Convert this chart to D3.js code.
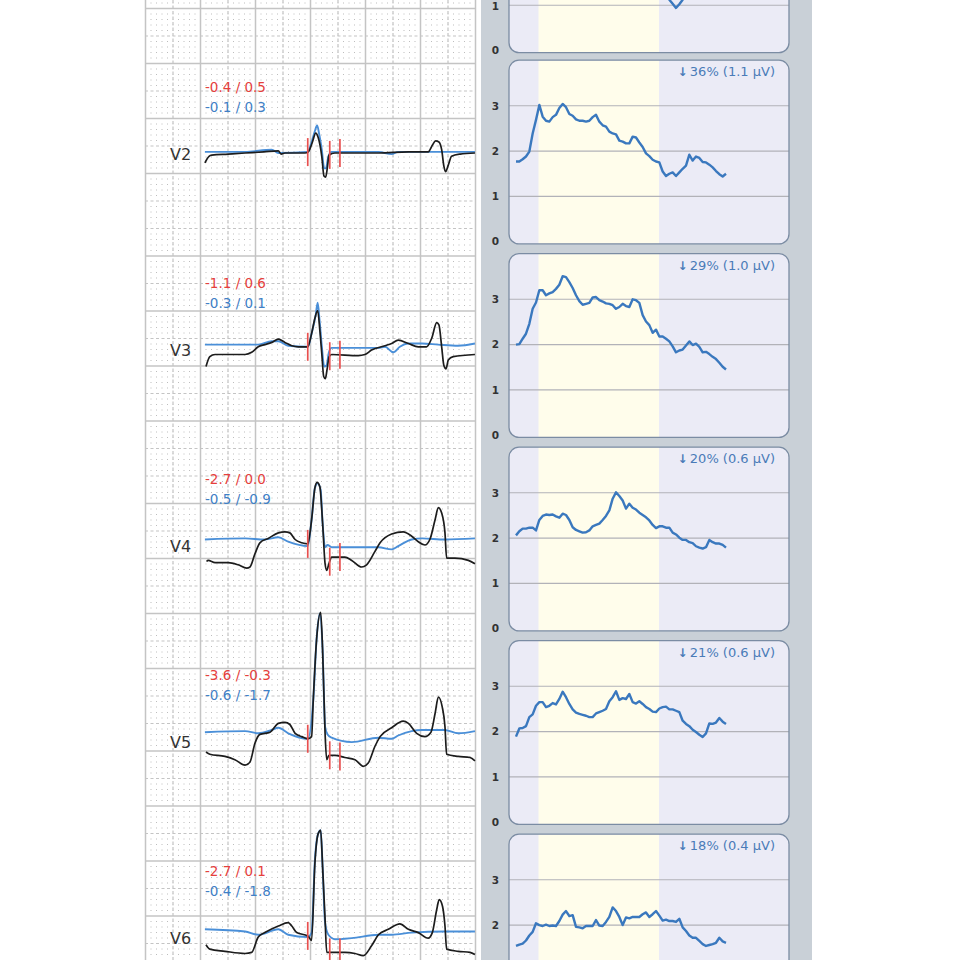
<!DOCTYPE html>
<html><head><meta charset="utf-8">
<script src="https://cdn.jsdelivr.net/npm/d3@7"></script>
<style>body{margin:0;background:#fff}svg{display:block}</style>
</head><body>
<svg id="c" width="960" height="960"></svg>
<script>
// ---------------- DATA ----------------
const leads = ["V2", "V3", "V4", "V5", "V6"];
const stText = ["-0.4 / 0.5", "-1.1 / 0.6", "-2.7 / 0.0", "-3.6 / -0.3", "-2.7 / 0.1"];
const refText = ["-0.1 / 0.3", "-0.3 / 0.1", "-0.5 / -0.9", "-0.6 / -1.7", "-0.4 / -1.8"];
const markerTimes = [390, 470, 507]; // ms

// ECG traces: [time ms, mV]
const v2Black = [[16,-0.09],[31,-0.03],[41,-0.02],[100,-0.01],[162,0.00],[230,0.01],[283,0.02],[293,-0.01],[307,0.00],[380,0.00],[392,0.01],[407,0.10],[419,0.18],[428,0.14],[441,-0.03],[449,-0.21],[455,-0.22],[462,-0.12],[467,-0.02],[489,0.00],[647,0.00],[756,0.01],[828,0.01],[843,0.07],[855,0.11],[867,0.10],[877,0.03],[885,-0.12],[891,-0.17],[901,-0.11],[913,-0.03],[944,-0.01],[998,0.00]];
const v2Blue = [[16,0.01],[162,0.01],[259,0.03],[283,0.00],[390,0.01],[404,0.10],[416,0.20],[424,0.25],[431,0.18],[441,0.03],[450,-0.14],[456,-0.14],[465,-0.03],[477,0.01],[647,0.01],[695,-0.01],[719,0.01],[998,0.01]];
const v3Black = [[20,-0.16],[34,-0.07],[53,-0.05],[162,-0.05],[186,-0.03],[210,0.02],[234,0.04],[259,0.06],[283,0.09],[307,0.06],[332,0.03],[356,0.02],[390,0.02],[404,0.14],[416,0.28],[426,0.35],[434,0.17],[441,-0.04],[448,-0.25],[454,-0.27],[460,-0.19],[468,-0.07],[477,-0.05],[574,-0.06],[598,-0.05],[622,-0.01],[671,0.03],[695,0.05],[719,0.08],[756,0.05],[792,0.02],[822,0.02],[841,0.10],[859,0.24],[867,0.22],[877,0.02],[885,-0.15],[893,-0.18],[901,-0.10],[919,-0.07],[998,-0.05]];
const v3Blue = [[16,0.04],[210,0.04],[259,0.07],[283,0.07],[319,0.03],[390,0.02],[404,0.14],[419,0.31],[426,0.42],[433,0.26],[441,0.03],[450,-0.16],[458,-0.15],[467,-0.03],[477,0.01],[647,0.01],[671,0.02],[701,-0.03],[725,0.02],[756,0.05],[806,0.05],[864,0.04],[937,0.03],[998,0.05]];
const v4Black = [[22,-0.15],[28,-0.14],[53,-0.16],[101,-0.16],[137,-0.18],[168,-0.21],[180,-0.20],[198,-0.08],[216,0.02],[246,0.06],[283,0.11],[307,0.12],[325,0.11],[344,0.05],[368,0.02],[390,0.01],[404,0.23],[416,0.52],[424,0.57],[434,0.53],[444,0.20],[453,-0.17],[459,-0.23],[467,-0.17],[477,-0.11],[525,-0.11],[550,-0.14],[586,-0.20],[604,-0.18],[634,-0.06],[653,0.02],[695,0.10],[737,0.12],[768,0.08],[792,0.03],[816,0.00],[834,0.05],[853,0.23],[865,0.34],[877,0.29],[889,0.11],[895,-0.12],[925,-0.12],[974,-0.14],[998,-0.17]];
const v4Blue = [[16,0.05],[162,0.06],[234,0.05],[283,0.07],[319,0.03],[390,-0.01],[404,0.23],[416,0.52],[426,0.56],[437,0.50],[444,0.20],[453,-0.02],[462,0.00],[477,-0.02],[647,-0.02],[695,-0.04],[719,-0.01],[768,0.05],[806,0.06],[888,0.05],[998,0.06]];
const v5Black = [[20,-0.10],[34,-0.12],[89,-0.14],[125,-0.17],[162,-0.22],[180,-0.19],[198,-0.02],[216,0.06],[253,0.08],[283,0.16],[307,0.17],[325,0.15],[344,0.07],[368,0.04],[390,0.02],[404,0.04],[410,0.37],[422,0.92],[437,1.17],[444,0.83],[453,0.07],[459,-0.17],[467,-0.13],[489,-0.13],[525,-0.15],[562,-0.17],[592,-0.23],[610,-0.20],[634,-0.05],[653,0.04],[695,0.12],[737,0.18],[756,0.16],[786,0.07],[816,0.04],[838,0.08],[853,0.25],[865,0.40],[879,0.31],[889,0.13],[895,-0.12],[937,-0.14],[980,-0.15],[998,-0.18]];
const v5Blue = [[16,0.08],[162,0.09],[210,0.07],[259,0.10],[283,0.12],[319,0.07],[390,0.02],[410,0.37],[422,0.92],[434,1.16],[444,0.83],[453,0.13],[462,0.06],[477,0.03],[550,-0.01],[647,0.03],[695,0.02],[719,0.05],[768,0.09],[806,0.10],[888,0.10],[937,0.07],[998,0.09]];
const v6Black = [[20,-0.07],[34,-0.11],[89,-0.13],[162,-0.15],[186,-0.14],[210,0.00],[234,0.04],[283,0.10],[319,0.13],[332,0.10],[350,0.04],[390,0.01],[404,-0.03],[416,0.67],[428,0.94],[437,0.97],[444,0.64],[453,0.16],[459,-0.14],[477,-0.14],[525,-0.14],[562,-0.15],[592,-0.17],[622,-0.08],[647,0.02],[683,0.07],[725,0.12],[756,0.07],[792,0.04],[828,-0.01],[843,0.04],[859,0.25],[868,0.34],[880,0.28],[889,0.10],[895,-0.11],[937,-0.13],[980,-0.14],[998,-0.16]];
const v6Blue = [[16,0.07],[162,0.05],[210,0.02],[283,0.07],[319,0.02],[390,0.00],[404,0.04],[416,0.70],[428,0.94],[437,0.97],[444,0.64],[453,0.13],[465,0.02],[489,-0.02],[550,-0.01],[647,0.02],[695,0.02],[768,0.04],[888,0.05],[998,0.05]];

// Trend panels (µV per sample index)
const trendLeads = ["V1", "V2", "V3", "V4", "V5", "V6"];
const trendPct = [null, 36, 29, 20, 21, 18];
const trendAmp = [null, 1.1, 1.0, 0.6, 0.6, 0.4];
const trendV1 = [[45,1.25],[46,1.12],[47,1.03],[48,0.94],[49,1.02],[50,1.12],[51,1.25]]; // only the visible part
const trendV2 = [1.77,1.77,1.82,1.88,1.99,2.39,2.69,3.02,2.76,2.67,2.65,2.75,2.80,2.95,3.04,2.97,2.82,2.78,2.70,2.67,2.67,2.65,2.67,2.75,2.80,2.65,2.57,2.54,2.43,2.39,2.37,2.23,2.21,2.17,2.17,2.32,2.30,2.19,2.09,1.95,1.89,1.81,1.77,1.75,1.55,1.45,1.50,1.53,1.45,1.53,1.61,1.68,1.92,1.79,1.88,1.85,1.76,1.75,1.70,1.64,1.56,1.49,1.44,1.50];
const trendV3 = [2.00,2.01,2.13,2.24,2.46,2.79,2.93,3.20,3.20,3.09,3.13,3.16,3.23,3.32,3.51,3.49,3.38,3.25,3.09,2.96,2.88,2.90,2.92,3.04,3.05,2.98,2.95,2.91,2.90,2.87,2.79,2.83,2.90,2.85,2.83,3.00,2.98,2.92,2.65,2.51,2.43,2.26,2.33,2.18,2.18,2.13,2.07,1.96,1.83,1.87,1.89,1.98,2.07,1.99,2.02,1.95,1.83,1.84,1.79,1.73,1.68,1.60,1.51,1.45];
const trendV4 = [2.06,2.15,2.21,2.21,2.23,2.23,2.17,2.40,2.49,2.52,2.51,2.52,2.48,2.45,2.54,2.51,2.40,2.24,2.18,2.15,2.12,2.13,2.17,2.26,2.29,2.32,2.40,2.49,2.61,2.87,3.01,2.93,2.83,2.65,2.76,2.67,2.63,2.56,2.51,2.46,2.39,2.29,2.22,2.26,2.26,2.23,2.23,2.12,2.08,2.01,1.96,1.96,1.91,1.89,1.82,1.79,1.77,1.80,1.96,1.91,1.88,1.88,1.85,1.79];
const trendV5 = [1.89,2.07,2.08,2.12,2.32,2.38,2.57,2.65,2.65,2.54,2.57,2.63,2.60,2.72,2.88,2.76,2.61,2.49,2.42,2.39,2.37,2.35,2.32,2.32,2.40,2.43,2.46,2.50,2.67,2.76,2.89,2.70,2.74,2.72,2.83,2.65,2.62,2.67,2.61,2.54,2.50,2.44,2.43,2.51,2.54,2.55,2.49,2.49,2.46,2.43,2.24,2.17,2.12,2.04,1.99,1.93,1.88,1.96,2.18,2.17,2.20,2.30,2.22,2.17];
const trendV6 = [1.54,1.57,1.59,1.66,1.77,1.85,2.04,2.00,1.98,2.01,1.98,1.99,1.98,2.09,2.23,2.31,2.20,2.22,1.96,1.95,1.93,1.98,1.98,1.98,2.11,1.99,1.98,2.07,2.18,2.39,2.31,2.18,2.00,2.17,2.15,2.18,2.18,2.18,2.24,2.28,2.18,2.24,2.31,2.21,2.10,2.12,2.09,2.09,2.07,2.14,1.95,1.87,1.77,1.72,1.72,1.65,1.58,1.54,1.56,1.58,1.61,1.72,1.64,1.61];
const exerciseWindow = [6.75, 42.9];
const trendTicks = [0, 1, 2, 3];

// ---------------- DRAW ----------------
const H = 960;
const svg = d3.select("#c");
const ecg = [[v2Black, v2Blue], [v3Black, v3Blue], [v4Black, v4Blue], [v5Black, v5Blue], [v6Black, v6Blue]];

// ECG grid
const ecgL = 145.5, ecgR = 476, big = 27.5, sm = 5.5, gy0 = 8.5;
const grid = svg.append("g");
for (let n = -2; gy0 + n * sm < H; n++) {
  if (((n % 5) + 5) % 5 === 0) continue;
  grid.append("line").attr("x1", ecgL).attr("x2", ecgR)
    .attr("y1", gy0 + n * sm).attr("y2", gy0 + n * sm)
    .attr("stroke", "#bdbdbd").attr("stroke-width", 1)
    .attr("stroke-dasharray", "1,4.5").attr("stroke-dashoffset", 0.5);
}
for (let k = -1; gy0 + k * big < H; k++) {
  const j = ((k % 9) + 9) % 9;
  const solid = j % 2 === 0 && j < 8;
  grid.append("line").attr("x1", ecgL).attr("x2", ecgR)
    .attr("y1", gy0 + k * big).attr("y2", gy0 + k * big)
    .attr("stroke", "#c4c4c4").attr("stroke-width", solid ? 1.5 : 1.2)
    .attr("stroke-dasharray", solid ? null : "3,2.5").attr("stroke-dashoffset", 0.5);
}
for (let k = 0; k <= 12; k++) {
  const x = ecgL + k * big;
  grid.append("line").attr("x1", x).attr("x2", x).attr("y1", 0).attr("y2", H)
    .attr("stroke", "#c4c4c4").attr("stroke-width", k % 2 === 0 ? 1.5 : 1.2)
    .attr("stroke-dasharray", k % 2 === 0 ? null : "3,2.5");
}

svg.append("clipPath").attr("id", "ecgclip").append("rect")
  .attr("x", ecgL).attr("y", 0).attr("width", ecgR - ecgL).attr("height", H);

const ecgX = d3.scaleLinear().domain([0, 1000]).range([200.5, 475.5]);
function interp(arr, t) {
  for (let i = 1; i < arr.length; i++) {
    if (arr[i][0] >= t) {
      const a = arr[i - 1], b = arr[i];
      return a[1] + (b[1] - a[1]) * (t - a[0]) / (b[0] - a[0]);
    }
  }
  return arr[arr.length - 1][1];
}
const font = "'DejaVu Sans', Verdana, sans-serif";
leads.forEach((name, i) => {
  const y0 = 153 + 196 * i;
  const ecgY = d3.scaleLinear().domain([-1, 1]).range([y0 + 110, y0 - 110]);
  const line = d3.line().x(d => ecgX(d[0])).y(d => ecgY(d[1])).curve(d3.curveMonotoneX);
  const g = svg.append("g").attr("clip-path", "url(#ecgclip)");
  const [blk, blu] = ecg[i];
  g.append("path").attr("d", line(blu)).attr("fill", "none")
    .attr("stroke", "#4a8fd8").attr("stroke-width", 1.9).attr("stroke-linejoin", "round");
  g.append("path").attr("d", line(blk)).attr("fill", "none")
    .attr("stroke", "#1c1c1c").attr("stroke-width", 1.7).attr("stroke-linejoin", "round");
  markerTimes.forEach(t => {
    const yc = ecgY(interp(blk, t));
    g.append("line").attr("x1", ecgX(t)).attr("x2", ecgX(t))
      .attr("y1", yc - 14).attr("y2", yc + 14)
      .attr("stroke", "#e8504f").attr("stroke-width", 1.7);
  });
  svg.append("text").attr("x", 170).attr("y", y0 + 7).text(name)
    .attr("font-family", font).attr("font-size", 16).attr("fill", "#333");
  svg.append("text").attr("x", 205).attr("y", y0 - 61).text(stText[i])
    .attr("font-family", font).attr("font-size", 13.5).attr("fill", "#e5403c");
  svg.append("text").attr("x", 205).attr("y", y0 - 41).text(refText[i])
    .attr("font-family", font).attr("font-size", 13.5).attr("fill", "#3f80c6");
});

// Right trend panel
svg.append("rect").attr("x", 481).attr("y", 0).attr("width", 331).attr("height", H).attr("fill", "#c9d0d7");
const trendX = d3.scaleLinear().domain([0, 63]).range([516, 726]);
const trends = [trendV1, trendV2, trendV3, trendV4, trendV5, trendV6];
const bases = [50.5, 241.7, 435.2, 628.7, 822.2, 1015.7];
const boxL = 509, boxR = 789;
trendLeads.forEach((name, i) => {
  const base = bases[i];
  const ty = d3.scaleLinear().domain([0, 4]).range([base, base - 181.2]);
  const top = ty(4) - 0.3, bot = ty(0) + 2.2;
  const g = svg.append("g");
  const cid = "bc" + i;
  svg.append("clipPath").attr("id", cid).append("rect")
    .attr("x", boxL).attr("y", top).attr("width", boxR - boxL).attr("height", bot - top).attr("rx", 10);
  g.append("rect").attr("x", boxL).attr("y", top).attr("width", boxR - boxL).attr("height", bot - top)
    .attr("rx", 10).attr("fill", "#ebebf6");
  g.append("rect").attr("x", trendX(exerciseWindow[0])).attr("y", top)
    .attr("width", trendX(exerciseWindow[1]) - trendX(exerciseWindow[0])).attr("height", bot - top)
    .attr("fill", "#fffdeb").attr("clip-path", `url(#${cid})`);
  trendTicks.filter(v => v > 0).forEach(v => {
    g.append("line").attr("x1", boxL).attr("x2", boxR).attr("y1", ty(v)).attr("y2", ty(v))
      .attr("stroke", "#b2b2b8").attr("stroke-width", 1.1);
  });
  trendTicks.filter(v => ty(v) > 4.5 && ty(v) < H - 5).forEach(v => {
    const yy = Math.max(ty(v), 6.2);
    g.append("text").attr("x", 495.5).attr("y", yy).attr("dy", "0.36em")
      .attr("text-anchor", "middle").text(v)
      .attr("font-family", font).attr("font-size", 10.5).attr("font-weight", "bold").attr("fill", "#333");
  });
  const data = trends[i];
  const pts = (typeof data[0] === "number") ? data.map((v, k) => [k, v]) : data;
  const line = d3.line().x(d => trendX(d[0])).y(d => ty(d[1]));
  g.append("path").attr("d", line(pts)).attr("fill", "none").attr("clip-path", `url(#${cid})`)
    .attr("stroke", "#3a78be").attr("stroke-width", 2.4).attr("stroke-linejoin", "round");
  g.append("rect").attr("x", boxL).attr("y", top).attr("width", boxR - boxL).attr("height", bot - top)
    .attr("rx", 10).attr("fill", "none").attr("stroke", "#7b8ca3").attr("stroke-width", 1.3);
  if (trendPct[i] !== null) {
    const t = g.append("text").attr("x", 775).attr("y", top + 16).attr("text-anchor", "end")
      .attr("font-family", font).attr("font-size", 13).attr("fill", "#4a7bb8");
    t.append("tspan").attr("font-weight", "bold").attr("font-size", 12).text("↓\u2009");
    t.append("tspan").text(`${trendPct[i]}% (${trendAmp[i].toFixed(1)} µV)`);
  }
});
</script>
</body></html>
